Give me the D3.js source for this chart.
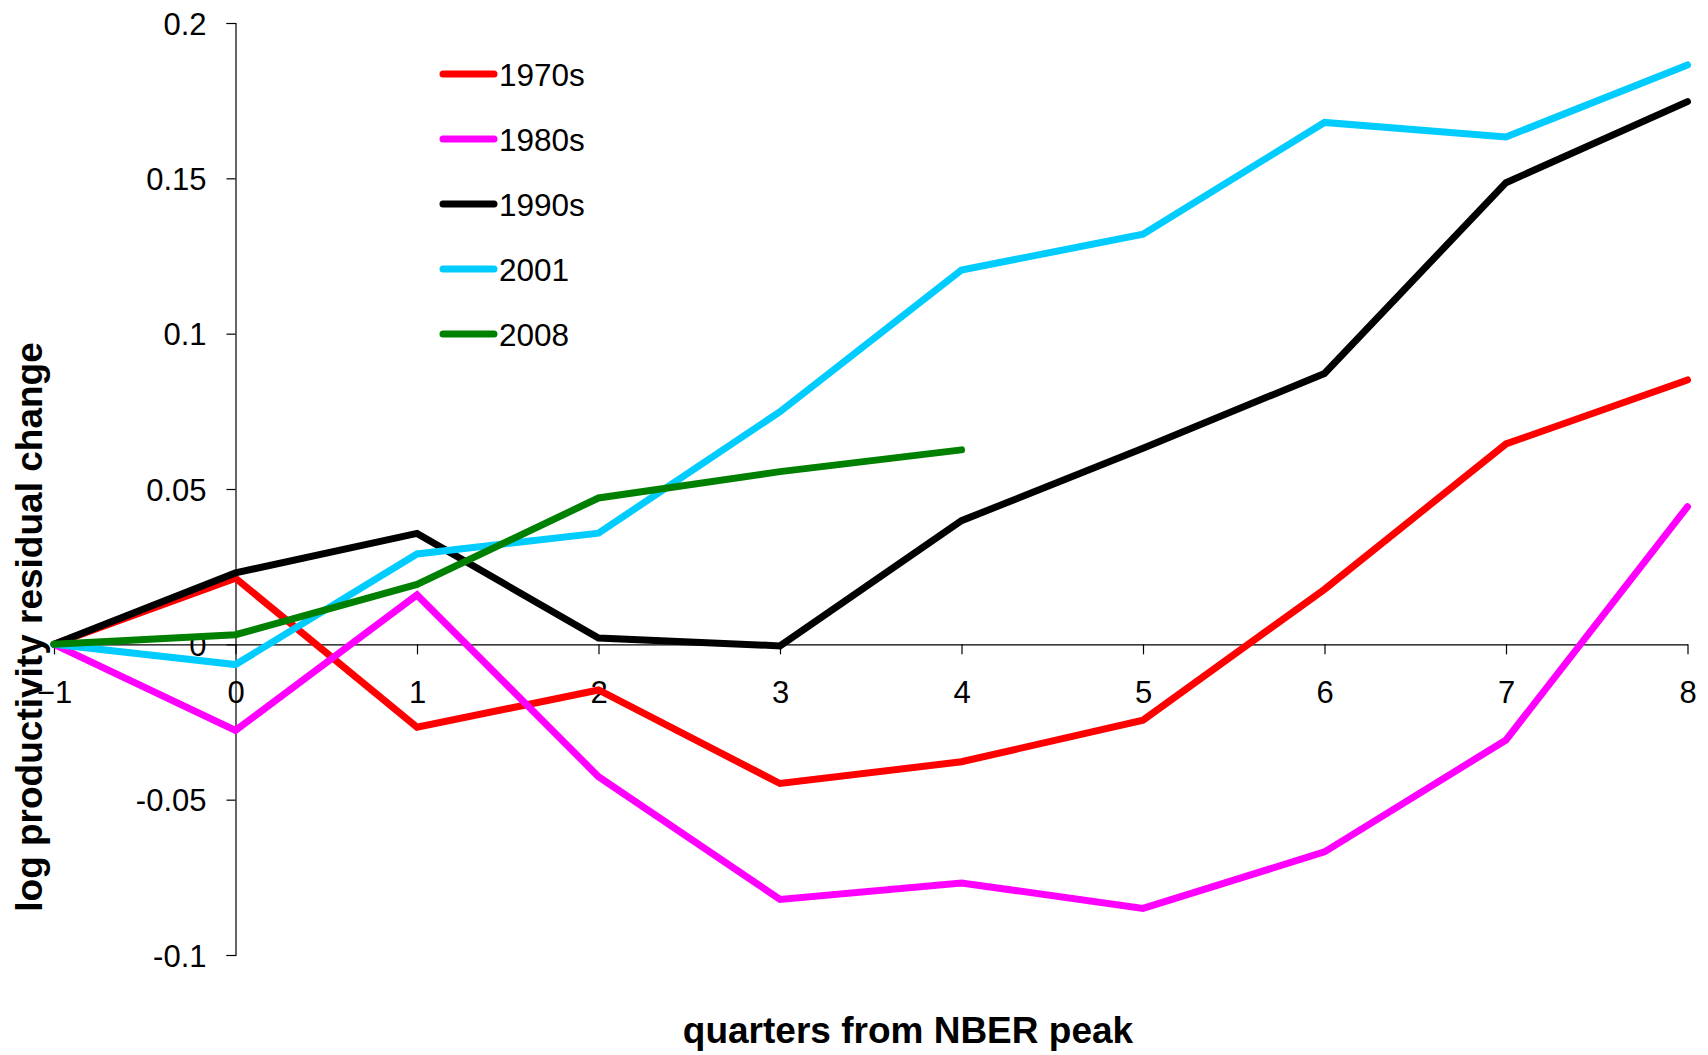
<!DOCTYPE html>
<html>
<head>
<meta charset="utf-8">
<script src="https://cdn.jsdelivr.net/npm/d3@7"></script>
<style>
  html, body { margin: 0; padding: 0; background: #fff; }
  svg { display: block; }
  text { font-family: "Liberation Sans", Arial, sans-serif; fill: #000; }
</style>
</head>
<body>
<svg id="chart" width="1708" height="1055"></svg>
<script>
// ---- data ----
const quarters = [-1, 0, 1, 2, 3, 4, 5, 6, 7, 8];
const seriesNames = ["1970s", "1980s", "1990s", "2001", "2008"];
const seriesColors = ["#FF0000", "#FF00FF", "#000000", "#00CCFF", "#008000"];
const v1970s = [0, 0.0213, -0.0267, -0.0147, -0.0448, -0.0378, -0.0244, 0.0177, 0.0645, 0.0851];
const v1980s = [0, -0.0277, 0.0159, -0.0426, -0.0821, -0.0768, -0.0850, -0.0668, -0.0308, 0.0443];
const v1990s = [0, 0.0230, 0.0357, 0.0020, -0.0005, 0.0398, 0.0631, 0.0872, 0.1486, 0.1747];
const v2001  = [0, -0.0065, 0.0291, 0.0358, 0.0749, 0.1205, 0.1320, 0.1680, 0.1633, 0.1865];
const v2008  = [0, 0.0031, 0.0193, 0.0471, 0.0556, 0.0626];
const yTicks = [-0.1, -0.05, 0, 0.05, 0.1, 0.15, 0.2];
const yTickLabels = ["-0.1", "-0.05", "0", "0.05", "0.1", "0.15", "0.2"];
const xTitle = "quarters from NBER peak";
const yTitle = "log productivity residual change";

const allValues = [v1970s, v1980s, v1990s, v2001, v2008];

// ---- scales ----
const svg = d3.select("#chart");
const x = d3.scaleLinear().domain([-1, 8]).range([54, 1687.5]);
const y = d3.scaleLinear().domain([-0.1, 0.2]).range([955, 23]);

// ---- y axis at x = 0 ----
const yAxis = d3.axisLeft(y).tickValues(yTicks).tickSize(9)
  .tickFormat((d, i) => yTickLabels[i]);
const gy = svg.append("g").attr("transform", `translate(${x(0)},0)`).call(yAxis);
gy.select(".domain").attr("stroke", "#000").attr("stroke-width", 1.2);
gy.selectAll(".tick line").attr("stroke", "#000").attr("stroke-width", 1.2);
gy.selectAll(".tick text")
  .attr("x", -29)
  .attr("dy", "0.358em")
  .style("font-size", "31px")
  .style("font-family", "'Liberation Sans', Arial, sans-serif")
  .attr("fill", "#000");

// ---- x axis at y = 0 ----
const xAxis = d3.axisBottom(x).tickValues(quarters).tickSize(10).tickSizeOuter(0)
  .tickFormat(d3.format("d"));
const gx = svg.append("g").attr("transform", `translate(0,${y(0)})`).call(xAxis);
gx.select(".domain").attr("stroke", "#000").attr("stroke-width", 1.2);
gx.selectAll(".tick line").attr("stroke", "#000").attr("stroke-width", 1.2);
gx.selectAll(".tick text")
  .attr("y", 59)
  .attr("dy", 0)
  .style("font-size", "31px")
  .style("font-family", "'Liberation Sans', Arial, sans-serif")
  .attr("fill", "#000");

// ---- lines ----
const line = d3.line().x((d, i) => x(quarters[i])).y(d => y(d));
allValues.forEach((vals, k) => {
  svg.append("path")
    .datum(vals)
    .attr("d", line)
    .attr("fill", "none")
    .attr("stroke", seriesColors[k])
    .attr("stroke-width", 7)
    .attr("stroke-linecap", "round")
    .attr("stroke-linejoin", "miter");
});

// ---- legend ----
const legend = svg.append("g");
seriesNames.forEach((name, k) => {
  const ly = 74 + k * 65;
  legend.append("line")
    .attr("x1", 443).attr("x2", 494).attr("y1", ly).attr("y2", ly)
    .attr("stroke", seriesColors[k]).attr("stroke-width", 7)
    .attr("stroke-linecap", "round");
  legend.append("text")
    .attr("x", 499).attr("y", ly + 1).attr("dy", "0.358em")
    .style("font-size", "31.5px")
    .text(name);
});

// ---- axis titles ----
svg.append("text")
  .attr("x", 908).attr("y", 1043)
  .attr("text-anchor", "middle")
  .style("font-size", "37px").style("font-weight", "bold")
  .text(xTitle);

svg.append("text")
  .attr("transform", "translate(42,627) rotate(-90)")
  .attr("text-anchor", "middle")
  .style("font-size", "37px").style("font-weight", "bold")
  .text(yTitle);
</script>
</body>
</html>
